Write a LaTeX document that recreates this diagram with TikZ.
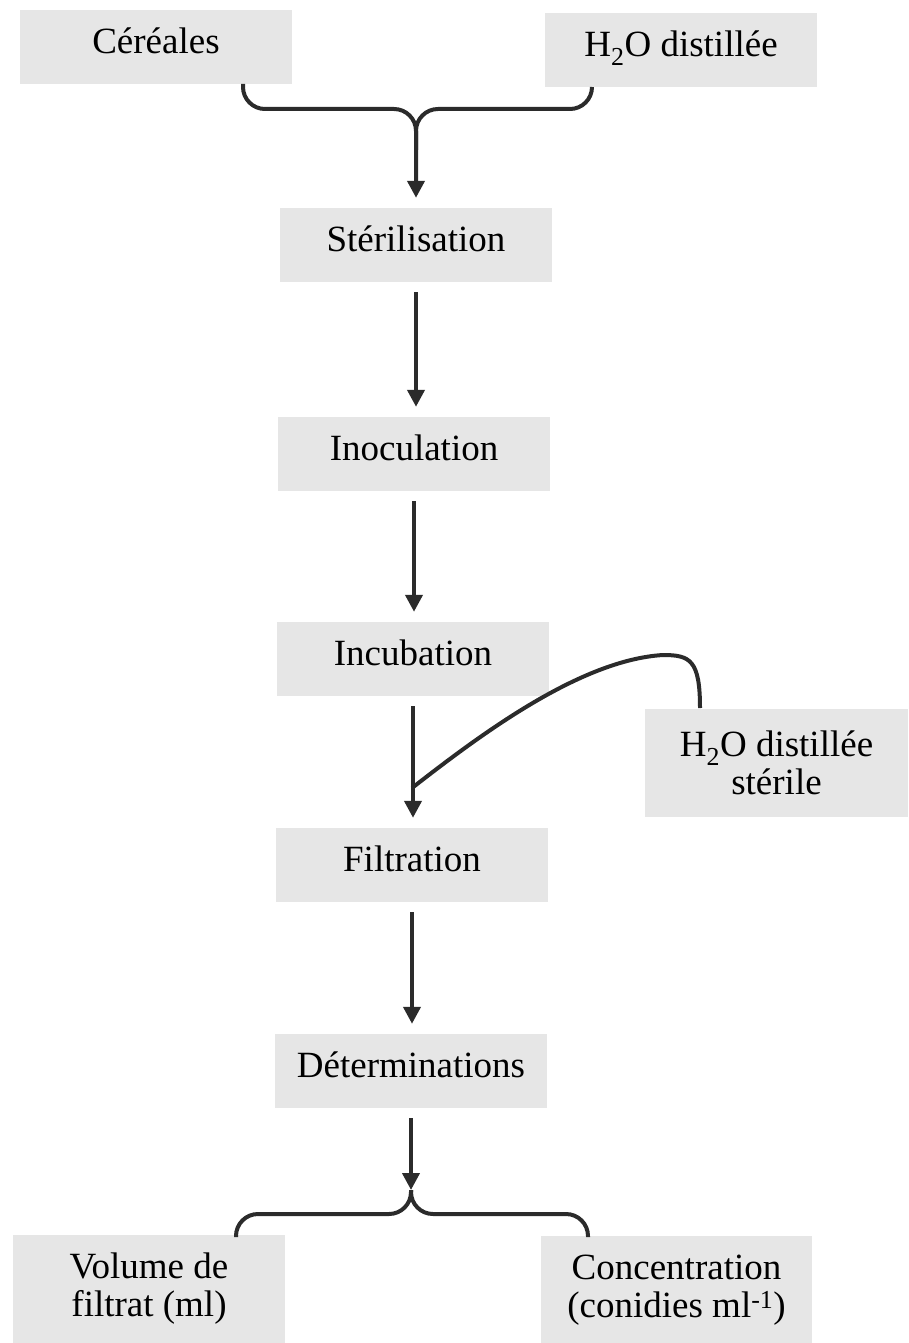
\documentclass[tikz,border=0pt]{standalone}
\usepackage{fontspec}
\setmainfont{Liberation Serif}
\usetikzlibrary{arrows.meta}
\definecolor{boxgray}{HTML}{E6E6E6}
\definecolor{linegray}{HTML}{2B2B2B}

\begin{document}
\begin{tikzpicture}[x=1pt,y=-1pt]
            \tikzset{
            fl box/.style={fill=boxgray,minimum width=272pt,inner sep=0,align=center,font=\fontsize{37}{38}\selectfont},
            fl node/.style={fl box,minimum height=74pt,text height=26pt,text depth=13pt},
            fl big/.style={fl box,minimum height=108pt},
            fl line/.style={draw=linegray,line width=4pt},
            fl edge/.style={fl line,-{Triangle[width=17pt,length=17pt]},shorten <=10pt,shorten >=10pt}
            }
            \useasboundingbox (0,0) rectangle (908,1343);
            \node[fl node] (cer) at (156, 47) {Céréales};
            \node[fl node] (h2o) at (681, 50) {H\textsubscript{2}O distillée};
            \node[fl node] (ster) at (416, 245) {Stérilisation};
            \node[fl node] (inoc) at (414, 454) {Inoculation};
            \node[fl node] (incub) at (413, 659) {Incubation};
            \node[fl big, minimum width=263pt] (eau) at (776.5, 763) {H\textsubscript{2}O distillée\\stérile};
            \node[fl node] (filt) at (412, 865) {Filtration};
            \node[fl node] (det) at (411, 1071) {Déterminations};
            \node[fl big] (vol) at (149, 1289) {Volume de\\filtrat (ml)};
            \node[fl big, minimum width=271pt] (conc) at (676.5, 1290) {Concentration\\(conidies ml\textsuperscript{-1})};

            \coordinate (cerout) at (243, 84);
            \coordinate (h2oout) at (592, 87);
            \coordinate (jtop) at (416, 109);
            \coordinate (jtop2) at (416, 150);
            \coordinate (eauout) at (700, 708);
            \coordinate (peak) at (663, 655);
            \coordinate (merge) at (412, 788);
            \coordinate (jbot) at (411, 1190);
            \coordinate (jmid) at (411, 1214);
            \coordinate (volin) at (236, 1237);
            \coordinate (concin) at (588, 1237);

            % accolade du haut
            \draw[fl line, rounded corners=22pt] (h2oout) |- (jtop) -- (jtop2);
            \draw[fl edge, rounded corners=22pt, shorten <=0pt] (cerout) |- (jtop) -- (ster.north);

            \path
            (ster.south) edge[fl edge] (ster.south |- inoc.north)
            (inoc.south) edge[fl edge] (inoc.south |- incub.north)
            (incub.south) edge[fl edge] (incub.south |- filt.north)
            (filt.south) edge[fl edge] (filt.south |- det.north)
            (det.south) edge[fl edge, shorten >=0pt] (jbot)
            ;

            % apport d'eau
            \draw[fl line] (eauout) .. controls (700, 660) and (690, 655) .. (peak)
                .. controls (580, 660) and (480, 735) .. (merge);

            % accolade du bas
            \draw[fl line, rounded corners=22pt] (jbot) -- (jmid) -| (volin);
            \draw[fl line, rounded corners=22pt] (jbot) -- (jmid) -| (concin);
\end{tikzpicture}
\end{document}
